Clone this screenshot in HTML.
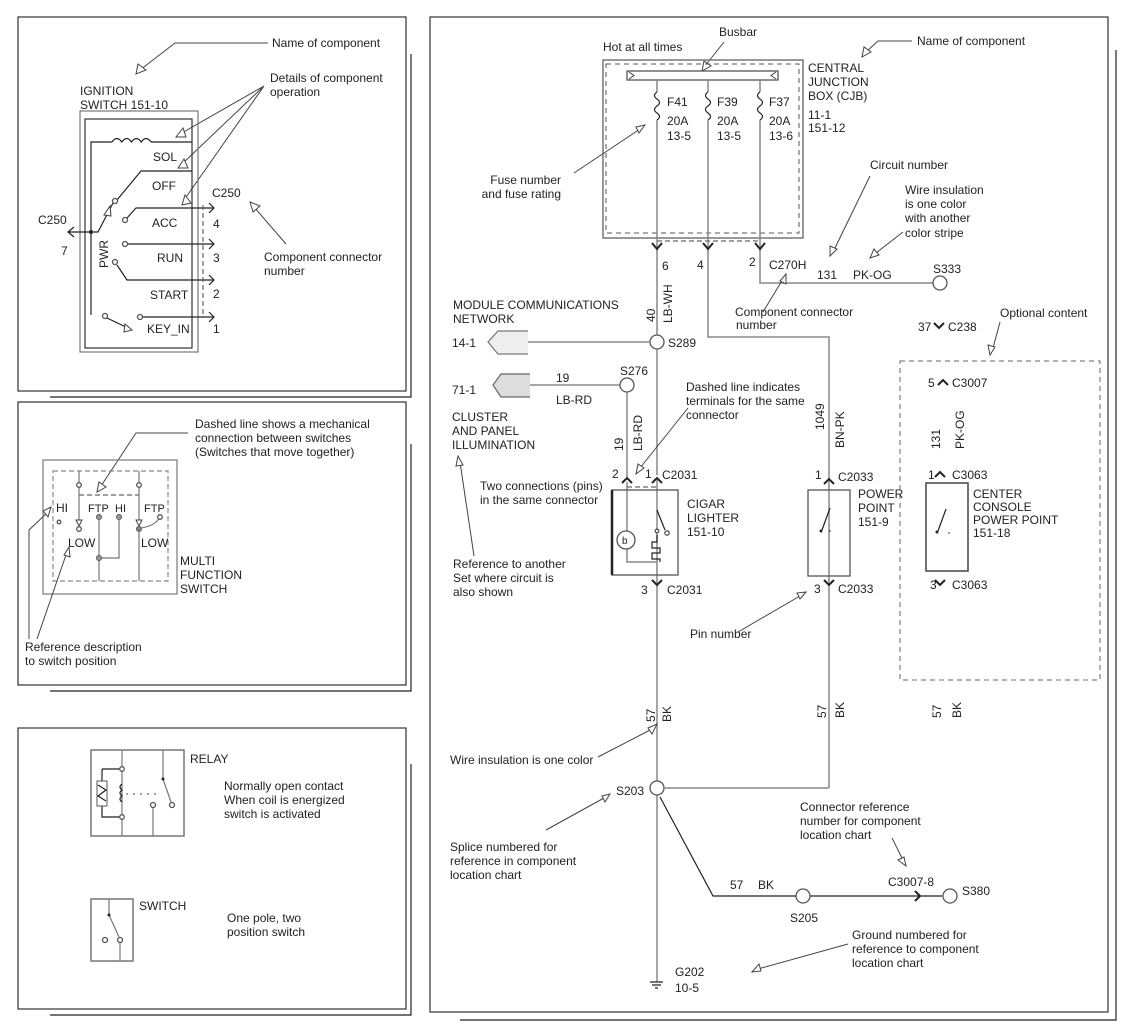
<!DOCTYPE html>
<html><head><meta charset="utf-8"><style>
html,body{margin:0;padding:0;background:#fff;}
svg{display:block;}
text{font-family:"Liberation Sans",sans-serif;font-size:12px;fill:#222;}
.w{stroke:#888;stroke-width:1.5;fill:none;}
.k{stroke:#222;stroke-width:1.2;fill:none;}
.g{stroke:#777;stroke-width:1.2;fill:none;}
.d{stroke:#666;stroke-width:1.2;fill:none;stroke-dasharray:5,3;}
.a{stroke:#444;stroke-width:1;fill:none;}
.h{stroke:#444;stroke-width:1;fill:#fff;}
.c{stroke:#222;stroke-width:2;fill:none;}
.s{stroke:#555;stroke-width:1.3;fill:#fff;}
</style></head><body>
<svg width="1126" height="1030" viewBox="0 0 1126 1030" xmlns="http://www.w3.org/2000/svg">
<path class="k" d="M50 397 H411 V54"/><rect x="18" y="17" width="388" height="374" fill="#fff" stroke="#333" stroke-width="1.2"/>
<path class="k" d="M50 691 H411 V444"/><rect x="18" y="402" width="388" height="283" fill="#fff" stroke="#333" stroke-width="1.2"/>
<path class="k" d="M50 1015 H411 V764"/><rect x="18" y="728" width="388" height="281" fill="#fff" stroke="#333" stroke-width="1.2"/>
<path class="k" d="M460 1020 H1116 V50"/><rect x="430" y="17" width="678" height="995" fill="#fff" stroke="#333" stroke-width="1.2"/>

<text x="272" y="47">Name of component</text>
<path class="a" d="M268 43 H175 L140 70"/><path class="h" d="M136 74 L138 64 L146 70 Z"/>
<text x="80" y="95">IGNITION</text><text x="80" y="109">SWITCH  151-10</text>
<text x="270" y="82">Details of component</text><text x="270" y="96">operation</text>
<path class="a" d="M264 86 L180 134 M264 86 L182 164 M264 86 L184 200"/>
<path class="h" d="M176 137 L183 128 L186 137 Z"/><path class="h" d="M178 168 L184 159 L188 168 Z"/><path class="h" d="M182 205 L185 195 L191 203 Z"/>
<rect x="80" y="111" width="118" height="241" fill="none" stroke="#777" stroke-width="1.2"/>
<rect x="85" y="119" width="107" height="229" fill="none" stroke="#333" stroke-width="1.2"/>
<path class="k" d="M91 315 V142 H112 M151 142 H192"/>
<path class="k" d="M112 142 q4.9 -7 9.75 0 q4.9 -7 9.75 0 q4.9 -7 9.75 0 q4.9 -7 9.75 0"/>
<text x="153" y="161">SOL</text>
<path class="k" d="M192 171 H141 L117 200"/>
<text x="152" y="190">OFF</text>
<path class="k" d="M69 232 H98 L113 203"/><circle cx="91" cy="232" r="2" fill="#222"/><circle cx="115" cy="201" r="2.5" class="s"/>
<path class="k" d="M74 227 L68 232 L74 237"/>
<path class="h" d="M104 215 L110 206 L111 216 Z"/>
<text x="38" y="224">C250</text><text x="61" y="255">7</text>
<text x="108" y="268" transform="rotate(-90 108 268)">PWR</text>
<circle cx="125" cy="220" r="2.5" class="s"/><path class="k" d="M127 218 L136 208 H213"/>
<text x="152" y="227">ACC</text>
<circle cx="125" cy="244" r="2.5" class="s"/><path class="k" d="M128 244 H213"/>
<text x="157" y="262">RUN</text>
<circle cx="115" cy="262" r="2.5" class="s"/><path class="k" d="M117 265 L127 280 H213"/>
<text x="150" y="299">START</text>
<circle cx="105" cy="316" r="2.5" class="s"/><path class="k" d="M107 318 L128 328"/><path class="h" d="M125 324 L132 330 L124 332 Z"/>
<circle cx="140" cy="317" r="2.5" class="s"/><path class="k" d="M143 317 H213"/>
<text x="147" y="333">KEY_IN</text>
<path class="k" d="M209 203 L214 208 L209 213 M209 239 L214 244 L209 249 M209 275 L214 280 L209 285 M209 312 L214 317 L209 322"/>
<path class="d" d="M203 205 V318"/>
<text x="212" y="197">C250</text>
<text x="213" y="228">4</text><text x="213" y="262">3</text><text x="213" y="298">2</text><text x="213" y="333">1</text>
<text x="264" y="261">Component connector</text><text x="264" y="275">number</text>
<path class="a" d="M286 244 L254 207"/><path class="h" d="M250 202 L260 206 L253 212 Z"/>

<text x="195" y="428">Dashed line shows a mechanical</text>
<text x="195" y="442">connection between switches</text>
<text x="195" y="456">(Switches that move together)</text>
<path class="a" d="M188 433 H136 L101 486"/><path class="h" d="M97 492 L99 482 L106 487 Z"/>
<rect x="43" y="460" width="134" height="134" fill="none" stroke="#777" stroke-width="1.2"/>
<rect x="53" y="471" width="115" height="110" fill="none" stroke="#888" stroke-width="1.2" stroke-dasharray="5,3"/>
<path class="d" d="M79 495 H139"/>
<path class="g" d="M79 471 V482 M79 488 V522 M139 471 V482 M139 488 V522"/>
<circle cx="79" cy="485" r="2.3" class="s"/><circle cx="139" cy="485" r="2.3" class="s"/>
<path class="h" d="M76 520 L82 520 L79 526 Z"/><path class="h" d="M136 520 L142 520 L139 526 Z"/>
<circle cx="79" cy="529" r="2.3" class="s"/><circle cx="139" cy="529" r="2.5" fill="#888" stroke="#555"/>
<path class="g" d="M139 529 V581 M141 528 Q155 526 160 517"/>
<circle cx="160" cy="517" r="2.3" class="s"/>
<circle cx="99" cy="517" r="2.5" fill="#999" stroke="#555"/><circle cx="119" cy="517" r="2.5" fill="#999" stroke="#555"/>
<path class="g" d="M99 519 V581 M119 519 V558 H99"/><circle cx="99" cy="558" r="2.5" fill="#999" stroke="#555"/>
<text x="56" y="512">HI</text><circle cx="59" cy="522" r="1.8" class="s"/>
<text x="88" y="512" style="font-size:11px">FTP</text><text x="115" y="512" style="font-size:11px">HI</text><text x="144" y="512" style="font-size:11px">FTP</text>
<text x="68" y="547">LOW</text><text x="141" y="547">LOW</text>
<text x="180" y="565">MULTI</text><text x="180" y="579">FUNCTION</text><text x="180" y="593">SWITCH</text>
<path class="a" d="M29 639 V530 L48 512 M37 639 L67 552"/>
<path class="h" d="M51 507 L48 517 L43 511 Z"/><path class="h" d="M69 547 L70 557 L64 555 Z"/>
<text x="25" y="651">Reference description</text><text x="25" y="665">to switch position</text>

<rect x="91" y="750" width="93" height="86" fill="none" stroke="#777" stroke-width="1.5"/>
<text x="190" y="763">RELAY</text>
<path class="g" d="M122 750 V836"/>
<path class="k" d="M102 769 H122 M102 769 V781 M102 806 V817 H122"/>
<circle cx="122" cy="769" r="2.3" class="s"/><circle cx="122" cy="817" r="2.3" class="s"/>
<rect x="97" y="781" width="10" height="25" fill="#fff" stroke="#555"/>
<path class="k" d="M98 785 L106 790 L98 796 L106 801"/>
<path class="k" d="M122 784 q-4 3 0 6 q-4 3 0 6 q-4 3 0 6"/>
<path d="M126 794 H158" stroke="#444" stroke-dasharray="2,5"/>
<path class="g" d="M163 750 V779 L171 802"/><circle cx="163" cy="779" r="1.5" fill="#222"/><circle cx="172" cy="805" r="2.5" class="s"/>
<circle cx="153" cy="805" r="2.5" class="s"/><path class="g" d="M153 808 V836"/>
<text x="224" y="790">Normally open contact</text><text x="224" y="804">When coil is energized</text><text x="224" y="818">switch is activated</text>
<rect x="91" y="899" width="42" height="62" fill="none" stroke="#777" stroke-width="1.5"/>
<text x="139" y="910">SWITCH</text>
<path class="g" d="M109 899 V915 L119 937 M120 943 V961"/><circle cx="109" cy="915" r="1.5" fill="#222"/>
<circle cx="105" cy="940" r="2.5" class="s"/><circle cx="120" cy="940" r="2.5" class="s"/>
<text x="227" y="922">One pole, two</text><text x="227" y="936">position switch</text>

<text x="719" y="36">Busbar</text>
<path class="a" d="M724 42 L705 66"/><path class="h" d="M702 71 L704 61 L711 66 Z"/>
<text x="603" y="51">Hot at all times</text>
<rect x="603" y="60" width="200" height="178" fill="none" stroke="#777" stroke-width="1.5"/>
<rect x="606" y="64" width="193" height="169" fill="none" stroke="#555" stroke-width="1" stroke-dasharray="5,4"/>
<rect x="627" y="71" width="151" height="9" fill="#fff" stroke="#555" stroke-width="1.3"/>
<path class="a" d="M629 72 L634 75.5 L629 79 M776 72 L771 75.5 L776 79"/>
<path class="w" d="M657 80 V92 M657 120 V342 M708 80 V92 M708 120 V337 H829 V788 M760 80 V92 M760 120 V283 H933"/>
<path class="k" d="M657 92 q-5 3.5 0 7 q5 3.5 0 7 q-5 3.5 0 7 q5 3.5 0 7 M708 92 q-5 3.5 0 7 q5 3.5 0 7 q-5 3.5 0 7 q5 3.5 0 7 M760 92 q-5 3.5 0 7 q5 3.5 0 7 q-5 3.5 0 7 q5 3.5 0 7"/>
<text x="667" y="106">F41</text><text x="667" y="125">20A</text><text x="667" y="140">13-5</text>
<text x="717" y="106">F39</text><text x="717" y="125">20A</text><text x="717" y="140">13-5</text>
<text x="769" y="106">F37</text><text x="769" y="125">20A</text><text x="769" y="140">13-6</text>
<text x="808" y="72">CENTRAL</text><text x="808" y="86">JUNCTION</text><text x="808" y="100">BOX (CJB)</text>
<text x="808" y="119">11-1</text><text x="808" y="132">151-12</text>
<text x="917" y="45">Name of component</text>
<path class="a" d="M912 41 H878 L866 52"/><path class="h" d="M862 57 L864 47 L871 52 Z"/>
<text x="561" y="184" text-anchor="end">Fuse number</text><text x="561" y="198" text-anchor="end">and fuse rating</text>
<path class="a" d="M574 173 L640 129"/><path class="h" d="M645 125 L639 133 L636 127 Z"/>
<path class="d" d="M657 241 H760"/>
<path class="c" d="M652 243 L657 249 L662 243 M703 243 L708 249 L713 243 M755 243 L760 249 L765 243"/>
<text x="662" y="270">6</text><text x="697" y="269">4</text><text x="749" y="266">2</text><text x="769" y="269">C270H</text>
<text x="870" y="169">Circuit number</text>
<path class="a" d="M870 176 L834 250"/><path class="h" d="M830 256 L830 246 L837 249 Z"/>
<text x="905" y="194">Wire insulation</text><text x="905" y="208">is one color</text><text x="905" y="222">with another</text><text x="905" y="237">color stripe</text>
<path class="a" d="M903 232 L876 253"/><path class="h" d="M870 258 L874 249 L879 255 Z"/>
<text x="817" y="279">131</text><text x="853" y="279">PK-OG</text>
<circle cx="940" cy="283" r="7" class="s"/><text x="933" y="273">S333</text>
<text x="735" y="316">Component connector</text><text x="736" y="329">number</text>
<path class="a" d="M763 312 L783 279"/><path class="h" d="M786 274 L786 284 L780 281 Z"/>
<text x="672" y="323" transform="rotate(-90 672 323)">LB-WH</text>
<text x="655" y="322" transform="rotate(-90 655 322)">40</text>
<text x="453" y="309">MODULE COMMUNICATIONS</text><text x="453" y="323">NETWORK</text>
<text x="452" y="347">14-1</text>
<path d="M528 331 H498 L488 342 L498 354 H528" fill="#eee" stroke="#777" stroke-width="1.2"/>
<path class="w" d="M528 342 H649"/>
<circle cx="657" cy="342" r="7" class="s"/><text x="668" y="347">S289</text>
<path class="w" d="M657 349 V475 M657 480 V982"/>
<text x="1000" y="317">Optional content</text>
<path class="a" d="M1000 322 L993 348"/><path class="h" d="M990 355 L988 345 L995 347 Z"/>
<text x="918" y="331">37</text><path class="c" d="M934 323 L939 328 L944 323"/><text x="948" y="331">C238</text>
<rect x="900" y="361" width="200" height="319" fill="none" stroke="#666" stroke-width="1" stroke-dasharray="5,4"/>
<text x="928" y="387">5</text><path class="c" d="M938 385 L943 380 L948 385"/><text x="952" y="387">C3007</text>
<text x="940" y="449" transform="rotate(-90 940 449)">131</text>
<text x="964" y="449" transform="rotate(-90 964 449)">PK-OG</text>
<text x="928" y="479">1</text><path class="c" d="M935 477 L940 472 L945 477"/><text x="952" y="479">C3063</text>
<rect x="926" y="483" width="42" height="88" fill="none" stroke="#444" stroke-width="1.5"/>
<path class="k" d="M946 509 L938 531"/><circle cx="937" cy="532" r="1.5" fill="#222"/><circle cx="949" cy="533" r="0.8" fill="#222"/>
<text x="973" y="498">CENTER</text><text x="973" y="511">CONSOLE</text><text x="973" y="524">POWER POINT</text><text x="973" y="537">151-18</text>
<text x="930" y="589">3</text><path class="c" d="M935 580 L940 585 L945 580"/><text x="952" y="589">C3063</text>

<text x="452" y="394">71-1</text>
<path d="M530 374 H501 L493 385 L501 397 H530" fill="#ddd" stroke="#666" stroke-width="1.2"/>
<path class="w" d="M530 385 H620"/>
<text x="556" y="382">19</text><text x="556" y="404">LB-RD</text>
<circle cx="627" cy="385" r="7" class="s"/><text x="620" y="375">S276</text>
<path class="w" d="M627 392 V477 M627 482 V562 H657"/>
<text x="452" y="421">CLUSTER</text><text x="452" y="435">AND PANEL</text><text x="452" y="449">ILLUMINATION</text>
<text x="623" y="451" transform="rotate(-90 623 451)">19</text>
<text x="642" y="451" transform="rotate(-90 642 451)">LB-RD</text>
<text x="686" y="391">Dashed line indicates</text><text x="686" y="405">terminals for the same</text><text x="686" y="419">connector</text>
<path class="a" d="M688 408 L640 468"/><path class="h" d="M636 474 L638 464 L644 468 Z"/>
<text x="480" y="490">Two connections (pins)</text><text x="480" y="504">in the same connector</text>
<text x="453" y="568">Reference to another</text><text x="453" y="582">Set where circuit is</text><text x="453" y="596">also shown</text>
<path class="a" d="M474 556 L460 462"/><path class="h" d="M458 456 L463 465 L456 466 Z"/>
<text x="612" y="478">2</text><text x="645" y="478">1</text><text x="662" y="479">C2031</text>
<path class="c" d="M622 483 L627 478 L632 483 M652 483 L657 478 L662 483"/>
<path class="d" d="M627 487 H657"/>
<rect x="612" y="490" width="66" height="85" fill="none" stroke="#555" stroke-width="1.3"/>
<path d="M612 490 V575" stroke="#222" stroke-width="2.5"/>
<circle cx="626" cy="540" r="9" class="s"/><text x="622" y="544" style="font-size:10px">b</text>
<path class="k" d="M657 510 L665 530"/><circle cx="667" cy="533" r="2.2" class="s"/><circle cx="657" cy="531" r="1.8" class="s"/>
<path class="k" d="M657 535 V542 H652 V548 H660 V553 H652 V559 H660 V562"/>
<text x="687" y="508">CIGAR</text><text x="687" y="522">LIGHTER</text><text x="687" y="536">151-10</text>
<text x="641" y="594">3</text><path class="c" d="M652 580 L657 585 L662 580"/><text x="667" y="594">C2031</text>

<text x="824" y="430" transform="rotate(-90 824 430)">1049</text>
<text x="844" y="448" transform="rotate(-90 844 448)">BN-PK</text>
<text x="815" y="479">1</text><path class="c" d="M824 484 L829 479 L834 484"/><text x="838" y="481">C2033</text>
<rect x="808" y="490" width="42" height="86" fill="none" stroke="#555" stroke-width="1.3"/>
<path class="k" d="M830 508 L822 530"/><circle cx="821" cy="531" r="1.5" fill="#222"/><circle cx="830" cy="531" r="0.8" fill="#222"/>
<text x="858" y="498">POWER</text><text x="858" y="512">POINT</text><text x="858" y="526">151-9</text>
<text x="814" y="593">3</text><path class="c" d="M824 580 L829 585 L834 580"/><text x="838" y="593">C2033</text>
<text x="690" y="638">Pin number</text>
<path class="a" d="M738 632 L800 596"/><path class="h" d="M806 592 L800 599 L797 593 Z"/>

<text x="655" y="722" transform="rotate(-90 655 722)">57</text><text x="671" y="722" transform="rotate(-90 671 722)">BK</text>
<text x="826" y="718" transform="rotate(-90 826 718)">57</text><text x="844" y="718" transform="rotate(-90 844 718)">BK</text>
<text x="941" y="718" transform="rotate(-90 941 718)">57</text><text x="961" y="718" transform="rotate(-90 961 718)">BK</text>
<text x="450" y="764">Wire insulation is one color</text>
<path class="a" d="M598 757 L650 730"/><path class="h" d="M657 724 L652 734 L648 728 Z"/>
<path class="w" d="M665 788 H829"/>
<circle cx="657" cy="788" r="7" class="s"/><text x="616" y="795">S203</text>
<path class="a" d="M546 830 L604 798"/><path class="h" d="M610 794 L605 802 L602 796 Z"/>
<text x="450" y="851">Splice numbered for</text><text x="450" y="865">reference in component</text><text x="450" y="879">location chart</text>
<path class="k" d="M660 797 L713 896 H796 M810 896 H942"/>
<circle cx="803" cy="896" r="7" class="s"/><circle cx="950" cy="896" r="7" class="s"/>
<path class="c" d="M915 891 L920 896 L915 901"/>
<text x="730" y="889">57</text><text x="758" y="889">BK</text>
<text x="790" y="922">S205</text><text x="888" y="886">C3007-8</text><text x="962" y="895">S380</text>
<text x="800" y="811">Connector reference</text><text x="800" y="825">number for component</text><text x="800" y="839">location chart</text>
<path class="a" d="M892 838 L903 860"/><path class="h" d="M906 866 L898 860 L904 857 Z"/>
<text x="852" y="939">Ground numbered for</text><text x="852" y="953">reference to component</text><text x="852" y="967">location chart</text>
<path class="a" d="M848 944 L758 969"/><path class="h" d="M752 972 L759 964 L761 971 Z"/>
<path class="k" d="M650 982 H663 M652 985 H661 M655 988 H658"/>
<text x="675" y="976">G202</text><text x="675" y="992">10-5</text>
</svg>
</body></html>
